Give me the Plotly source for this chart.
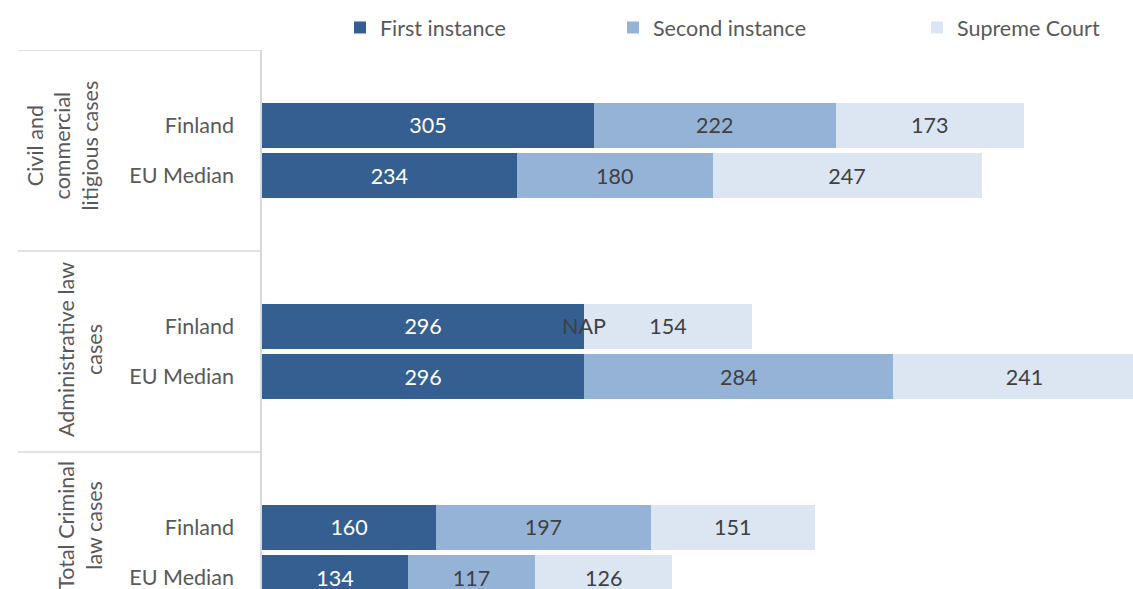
import plotly.graph_objects as go

groups = ["Civil and<br>commercial<br>litigious cases", "Administrative law<br>cases", "Total Criminal<br>law cases"]
rows = ["Finland", "EU Median"]
series = ["First instance", "Second instance", "Supreme Court"]
first = [305, 234, 296, 296, 160, 134]
second = [222, 180, None, 284, 197, 117]   # None = NAP
supreme = [173, 247, 154, 241, 151, 126]
colors = ["#365F91", "#95B3D7", "#DCE6F2"]
text_colors = ["white", "#404040", "#404040"]

W, H = 1133, 589
PX_L, PX_T = 262, 50         # plot area origin on screen
ML, MT = PX_L, PX_T
slots = 4
FONT = "Lato"
FS = 21.5
ypos = [g * slots + 1 + r for g in range(len(groups)) for r in range(len(rows))]
ylabels = [rows[r] for g in range(len(groups)) for r in range(len(rows))]

fig = go.Figure()
for i, (name, vals) in enumerate(zip(series, [first, second, supreme])):
    xs = [v if v is not None else 0 for v in vals]
    fig.add_trace(go.Bar(
        y=ypos, x=xs, orientation="h", name=name,
        marker=dict(color=colors[i], line=dict(width=0)),
        width=0.9,
        text=[str(v) if v is not None else "" for v in vals],
        textposition="inside", insidetextanchor="middle", textangle=0,
        constraintext="none", cliponaxis=True,
        textfont=dict(color=text_colors[i], size=FS, family=FONT),
        legend=["legend", "legend2", "legend3"][i],
        hoverinfo="skip",
    ))

for k, v in enumerate(second):
    if v is None:
        fig.add_annotation(x=first[k], y=ypos[k], text="NAP", showarrow=False,
                           xref="x", yref="y",
                           font=dict(size=FS, color="#404040", family=FONT))

px_per_unit = 1.0885
plot_w = W - ML
plot_h = H - MT
xmax = plot_w / px_per_unit
slot_px = 50.25
ymin = -0.5
ymax = ymin + plot_h / slot_px

def px2paper(px):
    return (px - PX_L) / plot_w

for g in range(len(groups)):
    yb = g * slots - 0.5
    fig.add_shape(type="line", xref="paper", yref="y", x0=px2paper(18), x1=0,
                  y0=yb, y1=yb, line=dict(color="#D9D9D9", width=1.5))

label_x = [63, 80, 80]
label_y = [1.4, 5.47, 8.97]
for g, lab in enumerate(groups):
    fig.add_annotation(xref="paper", yref="y", x=px2paper(label_x[g]),
                       y=label_y[g], text=lab, showarrow=False, textangle=-90,
                       font=dict(size=FS, color="#595959", family=FONT),
                       xanchor="center", yanchor="middle", align="center")

legend_px = [340, 613, 917]
leg = {}
for i, key in enumerate(["legend", "legend2", "legend3"]):
    leg[key] = dict(orientation="h", x=px2paper(legend_px[i]), xanchor="left",
                    y=1 + (PX_T - 7) / plot_h, yanchor="top",
                    font=dict(size=FS, color="#595959", family=FONT),
                    itemwidth=30, bgcolor="rgba(0,0,0,0)")

fig.update_layout(
    width=W, height=H, barmode="stack",
    margin=dict(l=ML, r=0, t=MT, b=0, autoexpand=False),
    plot_bgcolor="white", paper_bgcolor="white",
    xaxis=dict(range=[0, xmax], showgrid=False, showticklabels=False,
               zeroline=False, showline=False, fixedrange=True),
    yaxis=dict(range=[ymax, ymin], tickvals=ypos, ticktext=ylabels,
               showgrid=False, zeroline=False, showline=True,
               linecolor="#D9D9D9", linewidth=1.5, ticks="",
               ticklabelstandoff=22, ticklabeloverflow="allow",
               tickfont=dict(size=FS, color="#595959", family=FONT)),
    showlegend=True,
    **leg,
)

fig.write_html("out.html", config={"displayModeBar": False},
               post_script="document.body.style.margin='0';document.body.style.overflow='hidden';")
